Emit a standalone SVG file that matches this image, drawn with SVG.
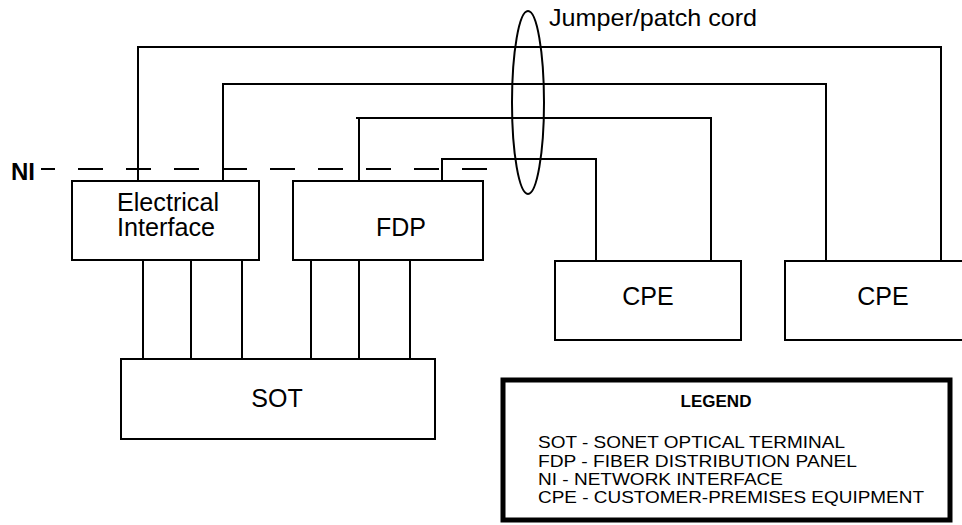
<svg xmlns="http://www.w3.org/2000/svg" width="962" height="525" viewBox="0 0 962 525">
<style>
  .box { fill: #fff; stroke: #000; stroke-width: 2; }
  .wire { fill: none; stroke: #000; stroke-width: 2; }
  .lbl { font-family: "Liberation Sans", Arial, sans-serif; font-size: 25px; fill: #000; }
  .leg { font-family: "Liberation Sans", Arial, sans-serif; font-size: 17px; fill: #000; }
</style>
<rect width="962" height="525" fill="#fff"/>
<g id="ni-label">
  <text x="11" y="180" font-family="Liberation Sans, Arial, sans-serif" font-size="24" font-weight="bold">NI</text>
  <line x1="41" y1="169" x2="488" y2="169" stroke="#000" stroke-width="2" stroke-dasharray="25 23" stroke-dashoffset="11"/>
</g>
<g id="connectors">
  <path class="wire" d="M138,181 V47 H941 V261"/>
  <path class="wire" d="M223,181 V84 H826 V261"/>
  <path class="wire" d="M359,181 V118 M356,118 H711 V261"/>
  <path class="wire" d="M442,181 V159 H596 V261"/>
  <path class="wire" d="M143,260 V359 M191,260 V359 M242,260 V359 M311,260 V359 M359,260 V359 M410,260 V359"/>
</g>
<g id="electrical-interface">
  <rect class="box" x="72" y="181" width="187" height="79"/>
  <text class="lbl" x="117" y="211" font-size="24" textLength="102" lengthAdjust="spacingAndGlyphs">Electrical</text>
  <text class="lbl" x="117" y="236" font-size="24" textLength="98" lengthAdjust="spacingAndGlyphs">Interface</text>
</g>
<g id="fdp">
  <rect class="box" x="293" y="181" width="190" height="79"/>
  <text class="lbl" x="376" y="236">FDP</text>
</g>
<g id="sot">
  <rect class="box" x="121" y="359" width="314" height="80"/>
  <text class="lbl" x="277" y="407" text-anchor="middle">SOT</text>
</g>
<g id="cpe-1">
  <rect class="box" x="555" y="261" width="186" height="79"/>
  <text class="lbl" x="648" y="305" text-anchor="middle">CPE</text>
</g>
<g id="cpe-2">
  <rect class="box" x="785" y="261" width="200" height="79"/>
  <text class="lbl" x="883" y="305" text-anchor="middle">CPE</text>
</g>
<g id="jumper">
  <ellipse cx="528" cy="102.5" rx="16" ry="91.5" fill="none" stroke="#000" stroke-width="2"/>
  <text x="549" y="26" font-family="Liberation Sans, Arial, sans-serif" font-size="24" textLength="208" lengthAdjust="spacingAndGlyphs">Jumper/patch cord</text>
</g>
<g id="legend">
  <rect x="503" y="380" width="447" height="140" fill="#fff" stroke="#000" stroke-width="5"/>
  <text class="leg" x="716" y="407" text-anchor="middle" font-weight="bold">LEGEND</text>
  <text class="leg" x="538" y="448" textLength="307" lengthAdjust="spacingAndGlyphs">SOT - SONET OPTICAL TERMINAL</text>
  <text class="leg" x="538" y="467" textLength="319" lengthAdjust="spacingAndGlyphs">FDP - FIBER DISTRIBUTION PANEL</text>
  <text class="leg" x="538" y="485" textLength="245" lengthAdjust="spacingAndGlyphs">NI - NETWORK INTERFACE</text>
  <text class="leg" x="538" y="503" textLength="386" lengthAdjust="spacingAndGlyphs">CPE - CUSTOMER-PREMISES EQUIPMENT</text>
</g>
</svg>
